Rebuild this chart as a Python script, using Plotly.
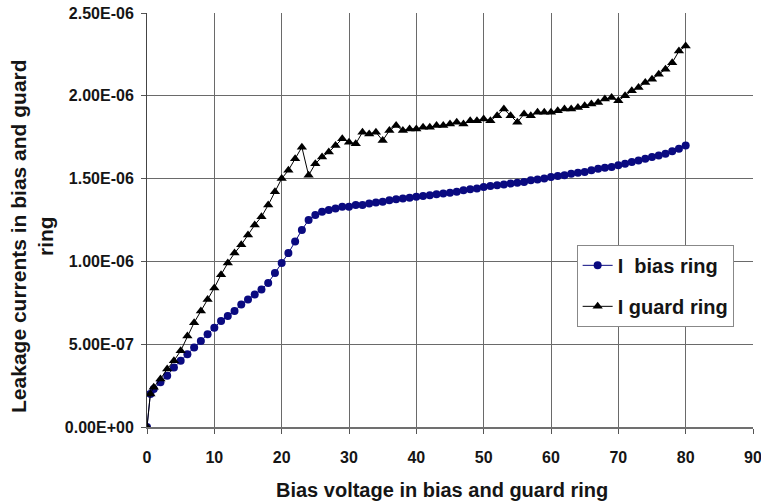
import plotly.graph_objects as go

# Bias voltage steps (V)
voltage = [0, 0.5] + list(range(1, 81))

# Leakage current in the bias ring (A)
i_bias = [
    0.0, 2.0e-7,
    2.3e-7, 2.7e-7, 3.1e-7, 3.6e-7, 4.0e-7, 4.4e-7, 4.8e-7, 5.2e-7, 5.6e-7, 6.0e-7,
    6.4e-7, 6.7e-7, 7.0e-7, 7.4e-7, 7.7e-7, 8.0e-7, 8.3e-7, 8.7e-7, 9.3e-7, 9.9e-7,
    1.05e-6, 1.12e-6, 1.19e-6, 1.25e-6, 1.28e-6, 1.30e-6, 1.31e-6, 1.32e-6, 1.33e-6, 1.33e-6,
    1.34e-6, 1.34e-6, 1.35e-6, 1.355e-6, 1.36e-6, 1.37e-6, 1.375e-6, 1.38e-6, 1.385e-6, 1.39e-6,
    1.395e-6, 1.40e-6, 1.405e-6, 1.41e-6, 1.415e-6, 1.42e-6, 1.43e-6, 1.435e-6, 1.44e-6, 1.45e-6,
    1.455e-6, 1.46e-6, 1.465e-6, 1.47e-6, 1.475e-6, 1.48e-6, 1.49e-6, 1.495e-6, 1.50e-6, 1.51e-6,
    1.515e-6, 1.52e-6, 1.53e-6, 1.535e-6, 1.54e-6, 1.55e-6, 1.56e-6, 1.565e-6, 1.57e-6, 1.58e-6,
    1.59e-6, 1.60e-6, 1.61e-6, 1.62e-6, 1.63e-6, 1.64e-6, 1.65e-6, 1.665e-6, 1.68e-6, 1.70e-6,
]

# Leakage current in the guard ring (A)
i_guard = [
    0.0, 2.0e-7,
    2.4e-7, 2.9e-7, 3.5e-7, 4.0e-7, 4.6e-7, 5.5e-7, 6.3e-7, 7.0e-7, 7.7e-7, 8.4e-7,
    9.2e-7, 9.9e-7, 1.05e-6, 1.10e-6, 1.16e-6, 1.22e-6, 1.27e-6, 1.34e-6, 1.42e-6, 1.50e-6,
    1.55e-6, 1.62e-6, 1.69e-6, 1.52e-6, 1.59e-6, 1.63e-6, 1.66e-6, 1.70e-6, 1.74e-6, 1.72e-6,
    1.71e-6, 1.78e-6, 1.77e-6, 1.78e-6, 1.73e-6, 1.79e-6, 1.82e-6, 1.79e-6, 1.80e-6, 1.80e-6,
    1.81e-6, 1.81e-6, 1.82e-6, 1.82e-6, 1.83e-6, 1.84e-6, 1.83e-6, 1.85e-6, 1.85e-6, 1.86e-6,
    1.85e-6, 1.88e-6, 1.92e-6, 1.88e-6, 1.84e-6, 1.89e-6, 1.88e-6, 1.90e-6, 1.90e-6, 1.90e-6,
    1.91e-6, 1.92e-6, 1.92e-6, 1.93e-6, 1.94e-6, 1.95e-6, 1.96e-6, 1.98e-6, 1.99e-6, 1.97e-6,
    2.00e-6, 2.03e-6, 2.05e-6, 2.08e-6, 2.10e-6, 2.13e-6, 2.16e-6, 2.20e-6, 2.27e-6, 2.30e-6,
]

y_tickvals = [0, 5e-7, 1e-6, 1.5e-6, 2e-6, 2.5e-6]
y_ticktext = ["0.00E+00", "5.00E-07", "1.00E-06", "1.50E-06", "2.00E-06", "2.50E-06"]
x_tickvals = list(range(0, 91, 10))

x_title = "Bias voltage in bias and guard ring"
y_title = "Leakage currents in bias and guard<br>ring"

font_family = "Liberation Sans, Arial, sans-serif"
ink = "#151515"

fig = go.Figure()
fig.add_trace(go.Scatter(
    x=voltage, y=i_bias, name="I  bias ring", mode="lines+markers",
    legendgroup="bias",
    line=dict(color="#0a0a80", width=1),
    marker=dict(symbol="circle", size=8, color="#0a0a80"),
))
fig.add_trace(go.Scatter(
    x=voltage, y=i_guard, name="I guard ring", mode="lines+markers",
    legendgroup="guard",
    line=dict(color="#000000", width=1),
    marker=dict(symbol="triangle-up", size=9, color="#000000"),
))

fig.update_layout(
    width=761, height=504,
    margin=dict(l=147, r=8, t=13, b=77, autoexpand=False),
    paper_bgcolor="white", plot_bgcolor="white",
    font=dict(family=font_family, color=ink),
    showlegend=True,
    legend=dict(
        x=0.709, y=0.44, xanchor="left", yanchor="top",
        bgcolor="white", bordercolor="#888888", borderwidth=1,
        font=dict(size=20, family=font_family, color=ink, weight="bold"),
        itemwidth=30, tracegroupgap=12,
    ),
    xaxis=dict(
        range=[0, 90], tickvals=x_tickvals, automargin=False,
        showgrid=True, gridcolor="#6a6a6a", gridwidth=1,
        showline=True, linecolor="#707070", linewidth=2,
        ticks="outside", ticklen=5, tickcolor="#555555",
        tickfont=dict(size=16, family=font_family, weight="bold"),
        ticklabelstandoff=10, ticklabeloverflow="allow",
        zeroline=False,
    ),
    yaxis=dict(
        range=[0, 2.5e-6], tickvals=y_tickvals, ticktext=y_ticktext, automargin=False,
        showgrid=True, gridcolor="#6a6a6a", gridwidth=1,
        showline=True, linecolor="#444444", linewidth=1,
        ticks="outside", ticklen=5, tickcolor="#555555",
        tickfont=dict(size=16, family=font_family, weight="bold"),
        ticklabelstandoff=4,
        zeroline=False,
    ),
)

# Axis titles placed as annotations relative to the plotting area
fig.add_annotation(
    text=x_title, xref="paper", yref="paper", x=0.487, y=-0.152,
    xanchor="center", yanchor="middle", showarrow=False,
    font=dict(size=20, family=font_family, color=ink, weight="bold"),
)
fig.add_annotation(
    text=y_title, xref="paper", yref="paper", x=-0.191, y=0.462,
    xanchor="center", yanchor="middle", showarrow=False, textangle=-90,
    align="center",
    font=dict(size=21, family=font_family, color=ink, weight="bold"),
)

fig.write_html("out.html")
